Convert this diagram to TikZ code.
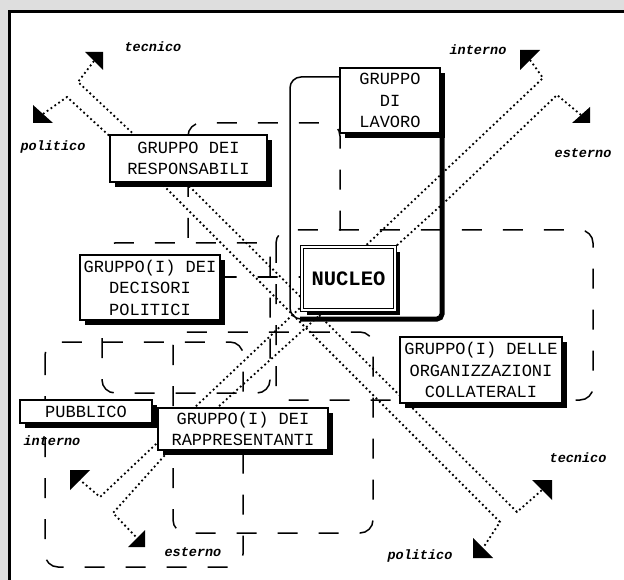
\documentclass[tikz,border=0pt]{standalone}
\usepackage{fontspec}
\setmainfont{Liberation Serif}
\newfontfamily\boxfont{Liberation Mono}
\newfontfamily\boldboxfont{Liberation Mono}
\usetikzlibrary{shadows}
\definecolor{bggray}{RGB}{222,222,222}
\tikzset{
  grp/.style={dash pattern=on 20pt off 21pt, line width=1.5pt, rounded corners=13pt},
  dotl/.style={line width=1.8pt, dash pattern=on 1.8pt off 2.9pt, line cap=butt},
  shad/.style={drop shadow={shadow xshift=5pt, shadow yshift=-5pt, fill=black, opacity=1}},
  lbl/.style={draw, fill=white, line width=1.5pt, align=center, inner sep=0pt, shad,
    font=\boxfont\fontsize{17}{21.5}\selectfont},
  nucbox/.style={draw, line width=1.3pt, double=white, double distance=2pt, fill=white,
    inner sep=0pt, shad, font=\boldboxfont\bfseries\fontsize{20.5}{24}\selectfont},
  ital/.style={font=\boldboxfont\bfseries\itshape\fontsize{13.5}{15}\selectfont, inner sep=0pt},
  tipfill/.style={fill=black},
}
\begin{document}
\begin{tikzpicture}[x=1pt,y=-1pt]
\useasboundingbox (0,0) rectangle (624,580);
\fill[bggray] (0,0) rectangle (624,580);
\fill[white] (9.5,11.5) rectangle (624,580);
\draw[line width=3pt] (9.5,580) -- (9.5,11.5) -- (624,11.5);

% dashed group regions
\draw[grp] (188,123) rectangle (340,277);
\draw[grp] (102,243) rectangle (270,393);
\draw[grp] (45,342) rectangle (243,567);
\draw[grp] (173,332) rectangle (373,533);
\draw[grp] (276,230) rectangle (593,400);

% gruppo di lavoro region
\draw[line width=1.5pt, rounded corners=11pt] (345,77) -- (290,77) -- (290,319) -- (310,319);
\draw[line width=5pt, rounded corners=5pt] (442,130) -- (442,319) -- (300,319);

% arrow heads
\fill[tipfill] (85,52) -- (103,52) -- (103,70) -- cycle;
\fill[tipfill] (33,105) -- (33,123) -- (53,123) -- cycle;
\fill[tipfill] (520,50) -- (540,50) -- (520,70) -- cycle;
\fill[tipfill] (590,107) -- (590,123) -- (572,123) -- cycle;
\fill[tipfill] (70,470) -- (90,470) -- (70,490) -- cycle;
\fill[tipfill] (145,530) -- (145,547) -- (128,547) -- cycle;
\fill[tipfill] (532,480) -- (552,480) -- (552,500) -- cycle;
\fill[tipfill] (473,538) -- (473,558) -- (493,558) -- cycle;

% dotted axes
\coordinate (tecA) at (94,61);
\coordinate (polA) at (43,114);
\coordinate (intA) at (530,60);
\coordinate (estA) at (581,115);
\coordinate (intB) at (80,480);
\coordinate (estB) at (137,538);
\coordinate (tecB) at (542,490);
\coordinate (polB) at (483,548);
\coordinate (t1) at (78,82);
\coordinate (t2) at (190,187);
\coordinate (t3) at (517,512);
\coordinate (p1) at (67,97);
\coordinate (p2) at (165,187);
\coordinate (p3) at (500,522);
\coordinate (i1) at (543,78);
\coordinate (i2) at (100,497);
\coordinate (e1) at (557,95);
\coordinate (e15) at (447,200);
\coordinate (e16) at (165,455);
\coordinate (e2) at (113,513);
\draw[dotl] (tecA) -- (t1) -- (t2) -- (t3) -- (tecB);
\draw[dotl] (polA) -- (p1) -- (p2) -- (p3) -- (polB);
\draw[dotl] (intA) -- (i1) -- (i2) -- (intB);
\draw[dotl] (estA) -- (e1) -- (e15) -- (e16) -- (e2) -- (estB);

% labels of axes
\node[ital] (ltec1) at (153,47) {tecnico};
\node[ital] (lpol1) at (53,147) {politico};
\node[ital] (lint1) at (478,50) {interno};
\node[ital] (lest1) at (583,153) {esterno};
\node[ital] (lint2) at (52,441) {interno};
\node[ital] (lest2) at (193,552) {esterno};
\node[ital] (ltec2) at (578,458) {tecnico};
\node[ital] (lpol2) at (420,556) {politico};

% boxes
\node[lbl, minimum width=157pt, minimum height=47pt] (resp) at (188.5,158.5) {GRUPPO DEI\\RESPONSABILI};
\node[lbl, minimum width=100pt, minimum height=65pt] (lav) at (390,100.5) {GRUPPO\\DI\\LAVORO};
\node[lbl, minimum width=140pt, minimum height=65pt] (dec) at (150,287.5) {GRUPPO(I) DEI\\DECISORI\\POLITICI};
\node[nucbox, minimum width=93pt, minimum height=63pt] (nuc) at (348.5,278.5) {NUCLEO};
\node[lbl, minimum width=162pt, minimum height=66pt] (org) at (481,370) {GRUPPO(I) DELLE\\ORGANIZZAZIONI\\COLLATERALI};
\node[lbl, minimum width=132pt, minimum height=23pt] (pub) at (86,411.5) {PUBBLICO};
\node[lbl, minimum width=170pt, minimum height=42pt] (rap) at (243,429) {GRUPPO(I) DEI\\RAPPRESENTANTI};
\end{tikzpicture}
\end{document}
